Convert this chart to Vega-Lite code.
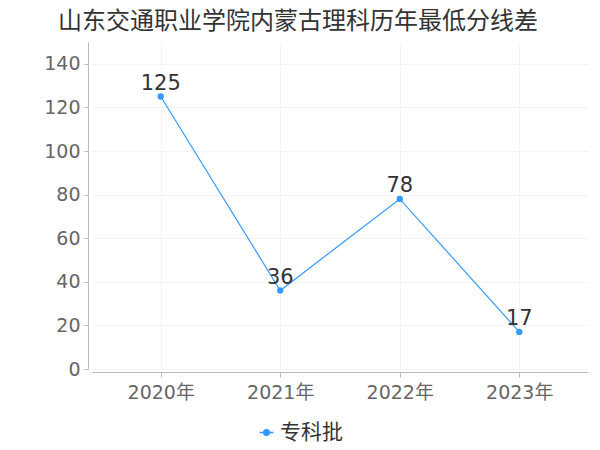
{
  "$schema": "https://vega.github.io/schema/vega-lite/v6.json",
  "autosize": "none",
  "width": 496,
  "height": 327,
  "padding": {"left": 92, "top": 42, "right": 12, "bottom": 81},
  "background": "white",
  "title": {
    "text": "山东交通职业学院内蒙古理科历年最低分线差",
    "font": "Noto Sans CJK SC",
    "fontSize": 24,
    "fontWeight": "normal",
    "color": "#333333",
    "anchor": "middle",
    "frame": "group",
    "offset": 8,
    "dx": -42
  },
  "config": {
    "view": {"stroke": null},
    "font": "DejaVu Sans"
  },
  "data": {
    "values": [
      {"year": "2020年", "value": 125, "series": "专科批"},
      {"year": "2021年", "value": 36, "series": "专科批"},
      {"year": "2022年", "value": 78, "series": "专科批"},
      {"year": "2023年", "value": 17, "series": "专科批"}
    ]
  },
  "encoding": {
    "x": {
      "field": "year",
      "type": "ordinal",
      "scale": {"type": "point", "padding": 0.575},
      "axis": {
        "title": null,
        "labelAngle": 0,
        "labelFont": "DejaVu Sans, Noto Sans CJK SC",
        "labelFontSize": 19,
        "labelColor": "#666666",
        "labelPadding": 6,
        "domainColor": "#bbbbbb",
        "tickColor": "#bbbbbb",
        "tickSize": 5,
        "offset": 3,
        "grid": true,
        "gridColor": "#f3f3f3"
      }
    },
    "y": {
      "field": "value",
      "type": "quantitative",
      "scale": {"domain": [0, 150], "nice": false},
      "axis": {
        "title": null,
        "values": [0, 20, 40, 60, 80, 100, 120, 140],
        "labelFontSize": 19,
        "labelColor": "#666666",
        "labelPadding": 4,
        "domainColor": "#bbbbbb",
        "tickColor": "#bbbbbb",
        "tickSize": 4,
        "offset": 4,
        "grid": true,
        "gridColor": "#f3f3f3"
      }
    }
  },
  "layer": [
    {
      "mark": {"type": "line", "color": "#3399ff", "strokeWidth": 1.2},
      "encoding": {
        "color": {
          "field": "series",
          "type": "nominal",
          "scale": {"range": ["#3399ff"]},
          "legend": {
            "title": null,
            "orient": "none",
            "legendX": 164,
            "legendY": 380,
            "symbolType": "M-1,0L1,0M0.4,0A0.4,0.4,0,1,1,-0.4,0A0.4,0.4,0,1,1,0.4,0Z",
            "symbolSize": 196,
            "symbolStrokeWidth": 1.5,
            "symbolStrokeColor": "#3399ff",
            "symbolFillColor": "#3399ff",
            "labelFont": "Noto Sans CJK SC",
            "labelFontSize": 21,
            "labelColor": "#333333",
            "labelOffset": 3
          }
        }
      }
    },
    {
      "mark": {"type": "point", "filled": true, "color": "#3399ff", "size": 40, "opacity": 1}
    },
    {
      "mark": {"type": "text", "dy": -13, "fontSize": 21, "color": "#333333", "font": "DejaVu Sans"},
      "encoding": {"text": {"field": "value", "type": "quantitative"}}
    }
  ]
}
